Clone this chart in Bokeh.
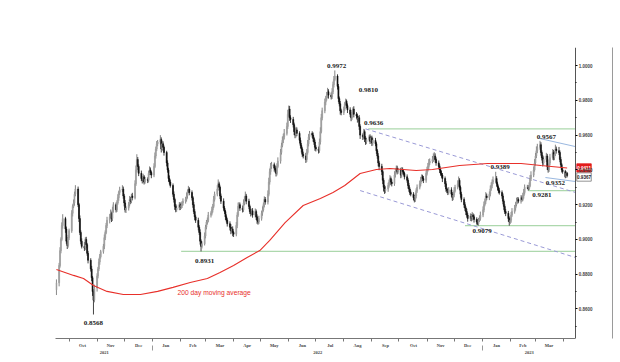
import pandas as pd
from bokeh.plotting import figure
from bokeh.models import (Range1d, LinearAxis, FixedTicker, NumeralTickFormatter, Label,
                          ColumnDataSource)
from bokeh.core.properties import value
from bokeh.embed import file_html
from bokeh.resources import INLINE

# ---------------- data ----------------
start_date = "2021-09-17"
first_open = 0.8710
closes = [
    0.8750,
    0.8850, 0.8935, 0.9000, 0.9080, 0.9120,
    0.9060, 0.8990, 0.8965, 0.9010, 0.9050,
    0.9150, 0.9190, 0.9210, 0.9260, 0.9290,
    0.9200, 0.9120, 0.9040, 0.8990, 0.8960,
    0.8950, 0.9000, 0.8970, 0.8920, 0.8880,
    0.8830, 0.8780, 0.8700, 0.8650, 0.8720,
    0.8790, 0.8830, 0.8870, 0.8900, 0.8930,
    0.8960, 0.9010, 0.9040, 0.9080, 0.9110,
    0.9130, 0.9150, 0.9120, 0.9170, 0.9200,
    0.9170, 0.9210, 0.9240, 0.9270, 0.9285,
    0.9290, 0.9250, 0.9210, 0.9170, 0.9180,
    0.9200, 0.9230, 0.9220, 0.9250, 0.9240,
    0.9320, 0.9400, 0.9460, 0.9420, 0.9380,
    0.9350, 0.9340, 0.9360, 0.9330, 0.9345,
    0.9340, 0.9380, 0.9400, 0.9385, 0.9370,
    0.9420, 0.9480, 0.9520, 0.9550, 0.9560,
    0.9575, 0.9520, 0.9550, 0.9530, 0.9500,
    0.9440, 0.9400, 0.9350, 0.9330, 0.9310,
    0.9260, 0.9230, 0.9190, 0.9170, 0.9180,
    0.9200, 0.9185, 0.9195, 0.9210, 0.9220,
    0.9230, 0.9250, 0.9275, 0.9290, 0.9270,
    0.9240, 0.9200, 0.9160, 0.9130, 0.9110,
    0.9070, 0.9040, 0.8990, 0.8960, 0.8975,
    0.9020, 0.9070, 0.9100, 0.9110, 0.9140,
    0.9150, 0.9170, 0.9190, 0.9230, 0.9260,
    0.9290, 0.9320, 0.9300, 0.9250, 0.9220,
    0.9180, 0.9160, 0.9130, 0.9110, 0.9090,
    0.9070, 0.9050, 0.9060, 0.9040, 0.9030,
    0.9080, 0.9140, 0.9190, 0.9200, 0.9180,
    0.9170, 0.9210, 0.9230, 0.9250, 0.9220,
    0.9190, 0.9160, 0.9150, 0.9165, 0.9140,
    0.9160, 0.9130, 0.9110, 0.9100, 0.9120,
    0.9150, 0.9170, 0.9200, 0.9230, 0.9215,
    0.9260, 0.9330, 0.9390, 0.9420, 0.9430,
    0.9410, 0.9400, 0.9380, 0.9420, 0.9450,
    0.9500, 0.9540, 0.9570, 0.9590, 0.9610,
    0.9650, 0.9720, 0.9750, 0.9700, 0.9690,
    0.9660, 0.9620, 0.9600, 0.9630, 0.9610,
    0.9570, 0.9540, 0.9520, 0.9490, 0.9480,
    0.9460, 0.9500, 0.9550, 0.9590, 0.9610,
    0.9600, 0.9580, 0.9560, 0.9530, 0.9520,
    0.9510, 0.9560, 0.9620, 0.9700, 0.9740,
    0.9790, 0.9810, 0.9830, 0.9850, 0.9830,
    0.9820, 0.9850, 0.9890, 0.9920, 0.9940,
    0.9880, 0.9810, 0.9780, 0.9740, 0.9730,
    0.9750, 0.9780, 0.9795, 0.9770, 0.9745,
    0.9720, 0.9700, 0.9730, 0.9750, 0.9720,
    0.9710, 0.9690, 0.9700, 0.9650, 0.9600,
    0.9590, 0.9620, 0.9580, 0.9560, 0.9575,
    0.9590, 0.9565, 0.9585, 0.9555, 0.9570,
    0.9550, 0.9510, 0.9480, 0.9440, 0.9420,
    0.9390, 0.9340, 0.9300, 0.9280, 0.9290,
    0.9310, 0.9330, 0.9350, 0.9330, 0.9320,
    0.9370, 0.9390, 0.9410, 0.9390, 0.9400,
    0.9370, 0.9400, 0.9390, 0.9380, 0.9360,
    0.9340, 0.9310, 0.9290, 0.9270, 0.9260,
    0.9240, 0.9225, 0.9250, 0.9280, 0.9300,
    0.9320, 0.9340, 0.9360, 0.9350, 0.9340,
    0.9380, 0.9400, 0.9420, 0.9440, 0.9450,
    0.9460, 0.9470, 0.9480, 0.9460, 0.9440,
    0.9420, 0.9400, 0.9380, 0.9370, 0.9350,
    0.9320, 0.9290, 0.9280, 0.9270, 0.9285,
    0.9260, 0.9240, 0.9255, 0.9280, 0.9300,
    0.9320, 0.9340, 0.9300, 0.9260, 0.9230,
    0.9200, 0.9180, 0.9160, 0.9140, 0.9120,
    0.9135, 0.9120, 0.9140, 0.9130, 0.9115,
    0.9100, 0.9090, 0.9110, 0.9120, 0.9140,
    0.9170, 0.9200, 0.9220, 0.9250, 0.9240,
    0.9260, 0.9290, 0.9310, 0.9330, 0.9340,
    0.9350, 0.9320, 0.9300, 0.9280, 0.9270,
    0.9250, 0.9220, 0.9190, 0.9160, 0.9150,
    0.9120, 0.9100, 0.9110, 0.9140, 0.9160,
    0.9180, 0.9200, 0.9220, 0.9230, 0.9220,
    0.9240, 0.9230, 0.9250, 0.9270, 0.9300,
    0.9300, 0.9290, 0.9310, 0.9350, 0.9370,
    0.9400, 0.9440, 0.9480, 0.9510, 0.9530,
    0.9545, 0.9500, 0.9470, 0.9440, 0.9460,
    0.9480, 0.9420, 0.9400, 0.9440, 0.9470,
    0.9500, 0.9470, 0.9490, 0.9520, 0.9510,
    0.9500, 0.9460, 0.9430, 0.9400, 0.9390,
    0.9360, 0.9380, 0.9367,
]
# upper / lower wick length in pips
up_wick = [
    20,
    15, 20, 12, 18, 25, 10, 14, 22, 16, 12, 18, 12, 20, 15, 22, 14, 10, 18, 12, 16,
    25, 12, 15, 10, 14, 12, 18, 10, 14, 20, 15, 12, 20, 16, 10, 14, 18, 12, 15, 20,
    16, 22, 10, 18, 14, 12, 15, 20, 10, 18, 22, 14, 12, 16, 10, 15, 20, 14, 12, 18,
    20, 25, 30, 14, 12, 16, 12, 18, 10, 14, 12, 15, 20, 14, 10, 18, 20, 14, 16, 12,
    25, 12, 18, 14, 10, 10, 15, 12, 18, 14, 12, 16, 10, 14, 20, 15, 12, 18, 10, 16,
    14, 20, 12, 18, 10, 12, 10, 16, 14, 12, 15, 12, 18, 10, 14, 20, 14, 12, 16, 18,
    12, 18, 14, 20, 15, 22, 25, 12, 10, 14, 16, 12, 10, 14, 12, 14, 18, 12, 15, 10,
    20, 16, 22, 14, 12, 15, 20, 18, 25, 12, 14, 10, 16, 12, 15, 18, 12, 14, 10, 16,
    15, 20, 12, 18, 14, 22, 25, 18, 20, 16, 12, 15, 20, 18, 22, 20, 16, 22, 18, 25,
    22, 25, 20, 18, 14, 15, 12, 20, 18, 14, 12, 16, 14, 10, 15, 18, 20, 22, 16, 14,
    12, 15, 10, 14, 12, 14, 20, 25, 22, 18, 20, 15, 18, 22, 14, 15, 20, 18, 20, 32,
    10, 14, 12, 16, 12, 14, 10, 15, 10, 12, 15, 12, 14, 10, 16, 12, 14, 10, 15, 12,
    10, 16, 12, 14, 10, 12, 14, 10, 12, 15, 14, 12, 10, 16, 12, 15, 10, 12, 14, 18,
    16, 14, 20, 12, 15, 22, 18, 15, 14, 12, 12, 16, 14, 12, 10, 14, 12, 15, 10, 12,
    12, 15, 18, 14, 16, 18, 20, 14, 12, 15, 15, 18, 20, 22, 16, 20, 25, 22, 15, 12,
    14, 12, 10, 15, 12, 12, 15, 10, 14, 16, 15, 12, 18, 20, 14, 20, 22, 12, 10, 14,
    12, 14, 10, 16, 12, 15, 12, 18, 10, 14, 12, 15, 14, 18, 20, 20, 18, 15, 22, 14,
    16, 20, 18, 15, 22, 39, 14, 12, 10, 15, 12, 14, 10, 12, 15, 14, 12, 16, 18, 20,
    18, 15, 20, 14, 12, 15, 12, 18, 20, 16, 14, 12, 18, 20, 22, 20, 22, 18, 25, 20,
    22, 14, 12, 16, 20, 18, 12, 15, 20, 22, 20, 15, 18, 25, 14, 22, 12, 15, 10, 12,
    10, 12, 8,
]
down_wick = [
    30,
    20, 12, 15, 10, 18, 22, 15, 20, 12, 14, 12, 18, 10, 16, 12, 14, 20, 15, 18, 12,
    16, 12, 20, 14, 18, 15, 20, 25, 82, 12, 20, 14, 12, 16, 10, 12, 16, 14, 10, 15,
    18, 12, 20, 14, 16, 15, 12, 10, 18, 14, 12, 16, 20, 15, 18, 14, 10, 16, 12, 15,
    10, 12, 14, 20, 16, 15, 18, 12, 14, 10, 16, 12, 10, 14, 18, 12, 10, 15, 12, 14,
    14, 20, 12, 15, 18, 20, 16, 18, 14, 12, 15, 18, 20, 14, 12, 12, 16, 10, 14, 15,
    14, 12, 15, 10, 16, 16, 18, 14, 20, 15, 18, 15, 20, 29, 12, 10, 14, 12, 15, 12,
    14, 12, 15, 10, 12, 12, 10, 14, 18, 16, 15, 14, 18, 12, 16, 18, 20, 15, 22, 16,
    12, 15, 10, 14, 16, 15, 12, 14, 10, 18, 16, 14, 18, 12, 15, 14, 18, 20, 15, 12,
    12, 14, 10, 16, 15, 14, 12, 15, 18, 14, 20, 16, 18, 12, 10, 14, 12, 10, 16, 15,
    12, 15, 14, 18, 20, 16, 20, 18, 14, 16, 18, 15, 20, 16, 14, 20, 14, 12, 15, 18,
    15, 18, 16, 20, 14, 16, 12, 14, 10, 15, 14, 18, 12, 16, 20, 15, 12, 14, 16, 10,
    18, 20, 15, 22, 16, 14, 12, 10, 16, 18, 16, 20, 12, 14, 18, 14, 18, 12, 20, 22,
    18, 14, 20, 16, 12, 12, 16, 14, 18, 15, 14, 18, 16, 20, 22, 20, 22, 25, 18, 14,
    16, 12, 14, 18, 15, 12, 14, 10, 16, 12, 18, 14, 16, 12, 15, 14, 18, 16, 15, 12,
    15, 12, 10, 14, 12, 12, 14, 10, 15, 16, 14, 12, 10, 14, 12, 12, 14, 15, 18, 16,
    16, 18, 14, 15, 20, 18, 16, 14, 15, 12, 15, 18, 14, 12, 10, 12, 14, 18, 20, 16,
    18, 16, 20, 15, 18, 14, 16, 12, 15, 18, 15, 8, 12, 10, 12, 12, 14, 10, 16, 14,
    14, 12, 10, 15, 12, 14, 16, 18, 15, 12, 16, 18, 20, 14, 16, 18, 21, 12, 14, 10,
    12, 14, 10, 15, 12, 14, 12, 10, 15, 12, 10, 9, 6, 10, 14, 12, 10, 15, 12, 14,
    14, 18, 16, 20, 12, 15, 20, 16, 12, 14, 12, 15, 14, 10, 16, 14, 16, 18, 15, 12,
    8, 5, 10,
]
# 200 day moving average, read at sample dates
ma_dates = ["2021-09-17", "2021-10-06", "2021-10-17", "2021-10-28", "2021-11-12", "2021-11-30",
            "2021-12-19", "2022-01-07", "2022-01-24", "2022-02-12", "2022-03-03", "2022-03-17",
            "2022-04-01", "2022-04-16", "2022-04-30", "2022-05-11", "2022-05-28", "2022-06-17",
            "2022-07-06", "2022-07-20", "2022-08-02", "2022-08-19", "2022-09-06", "2022-09-21",
            "2022-10-20", "2022-11-07", "2022-12-07", "2023-01-07", "2023-02-13", "2023-03-07",
            "2023-04-05"]
ma_values = [0.8827, 0.8793, 0.8775, 0.8735, 0.8701, 0.8683, 0.8683, 0.8701, 0.8724, 0.8752,
             0.8775, 0.8810, 0.8850, 0.8896, 0.8936, 0.8994, 0.9097, 0.9195, 0.9235, 0.9270,
             0.9310, 0.9379, 0.9402, 0.9408, 0.9396, 0.9402, 0.9425, 0.9437, 0.9437, 0.9425,
             0.9411]
level_labels = ["0.9972", "0.9810", "0.9636", "0.9567", "0.9389", "0.9352", "0.9281",
                "0.9079", "0.8931", "0.8568"]
support_levels = [0.9636, 0.9281, 0.9079, 0.8931]
support_from = ["2022-08-28", "2023-02-21", "2022-12-13", "2022-02-02"]
ma_last = 0.9411
last_close = 0.9367
y_ticks = [0.86, 0.88, 0.90, 0.92, 0.94, 0.96, 0.98, 1.00]
month_names = ["Jan", "Feb", "Mar", "Apr", "May", "Jun", "Jul", "Aug", "Sep", "Oct", "Nov", "Dec"]
year_names = ["2021", "2022", "2023"]

# ---------------- helpers ----------------
origin = pd.Timestamp("2021-09-16")
def dnum(d):
    return (pd.Timestamp(d) - origin).days

dates = pd.bdate_range(start_date, periods=len(closes))
xs = [dnum(d) for d in dates]
opens = [first_open] + closes[:-1]
highs = [max(o, c) + u * 0.0001 for o, c, u in zip(opens, closes, up_wick)]
lows = [min(o, c) - w * 0.0001 for o, c, w in zip(opens, closes, down_wick)]
up = [c >= o for o, c in zip(opens, closes)]

X_END = 575.2      # end of the time axis (the price axis sits here)
X_FRAME = 617.3    # frame extends to the right border of the picture
X_EDGE = 616.2     # right border line
p = figure(width=613, height=362, x_range=Range1d(0, X_FRAME), y_range=Range1d(0.843, 1.0104),
           output_backend="svg", toolbar_location=None, x_axis_type=None, y_axis_type=None,
           min_border_left=55, min_border_right=0, min_border_top=47, min_border_bottom=24)
p.outline_line_color = None
p.xgrid.visible = False
p.ygrid.visible = False

# right border of the picture
p.segment(x0=X_EDGE, y0=0.80, x1=X_EDGE, y1=1.05, line_color="#9a9a9a", line_width=1)

# support lines (green)
for lvl, d0 in zip(support_levels, support_from):
    p.segment(x0=dnum(d0), y0=lvl, x1=X_END, y1=lvl, line_color="#add8ad", line_width=1.2)

# channel dashed lines
p.segment(x0=343, y0=0.9636, x1=X_END, y1=0.9270, line_color="#9a9ad6", line_width=1,
          line_dash="4 3")
p.segment(x0=337, y0=0.9281, x1=X_END, y1=0.8896, line_color="#9a9ad6", line_width=1,
          line_dash="4 3")
# short wedge lines
p.segment(x0=536, y0=0.9580, x1=X_END, y1=0.9534, line_color="#9ab8e0", line_width=1)
p.segment(x0=542, y0=0.9356, x1=X_END, y1=0.9333, line_color="#9ab8e0", line_width=1)

# candles
src = ColumnDataSource(dict(x=xs, h=highs, l=lows,
                            top=[max(a, b) for a, b in zip(opens, closes)],
                            bot=[min(a, b) for a, b in zip(opens, closes)],
                            fill=["#a0a0a0" if u else "#111111" for u in up],
                            wick=["#858585" if u else "#444444" for u in up]))
p.segment(x0="x", y0="l", x1="x", y1="h", line_color="wick", line_width=1, source=src)
p.vbar(x="x", top="top", bottom="bot", width=1.1, fill_color="fill", line_color="fill",
       line_width=0.6, source=src)

# moving average
p.line([dnum(d) for d in ma_dates], ma_values, line_color="#e8302a", line_width=1.1)

# level annotations
label_pos = [(311, 1.0000), (346, 0.9860), (352, 0.9667), (543, 0.9588), (492, 0.9414),
             (553, 0.9325), (538, 0.9256), (472, 0.9049), (165, 0.8877), (42, 0.8520)]
for txt, (lx, ly) in zip(level_labels, label_pos):
    p.add_layout(Label(x=lx, y=ly, text=txt, text_font="Liberation Serif",
                       text_font_size="7px", text_align="center", text_baseline="middle",
                       text_color="#222222", text_font_style="bold"))
p.add_layout(Label(x=135, y=0.8695, text="200 day moving average", text_font="Liberation Sans",
                   text_font_size="6.7px", text_align="left", text_baseline="middle",
                   text_color="#e8302a"))

# value boxes next to the price axis
box_x = X_END + 9.5
box_src = ColumnDataSource(dict(x=[box_x, box_x], y=[ma_last, last_close - 0.0008],
                                txt=[f"{ma_last:.4f}", f"{last_close:.4f}"],
                                fill=["#e21c1c", "#ffffff"], line=["#e21c1c", "#777777"],
                                tcol=["#ffffff", "#222222"]))
p.rect(x="x", y="y", width=16, height=0.0048, fill_color="fill", line_color="line",
       line_width=0.8, source=box_src)
p.text(x="x", y="y", text="txt", text_color="tcol", text_font=value("Liberation Sans"),
       text_font_size="4.6px", text_font_style="bold", text_align="center",
       text_baseline="middle", source=box_src)

# price axis (drawn at the end of the time axis, labels to its right)
minor_y = [round(t + 0.01, 2) for t in y_ticks[:-1]] + [0.85]
yax = LinearAxis(ticker=FixedTicker(ticks=y_ticks, minor_ticks=minor_y),
                 formatter=NumeralTickFormatter(format="0.0000"), fixed_location=X_END)
yax.axis_line_color = "#555555"
yax.major_tick_out = 0
yax.major_tick_in = 2
yax.minor_tick_out = 0
yax.minor_tick_in = 1
yax.major_label_standoff = -17
yax.major_label_text_font_size = "4.5px"
yax.major_label_text_font = "Liberation Sans"
yax.major_label_text_font_style = "bold"
p.add_layout(yax, "left")

# x axis: months
month_starts = pd.date_range("2021-10-01", "2023-04-01", freq="MS")
mids, overrides = [], {}
for a, b in zip(month_starts[:-1], month_starts[1:]):
    m = int(round((dnum(a) + dnum(b)) / 2))
    mids.append(m)
    overrides[m] = month_names[a.month - 1]
xm = LinearAxis(ticker=FixedTicker(ticks=mids, minor_ticks=[dnum(d) for d in month_starts]),
                major_label_overrides=overrides, bounds=(0, X_END))
xm.axis_line_color = "#777777"
xm.major_tick_line_color = None
xm.major_tick_out = 0
xm.major_tick_in = 0
xm.minor_tick_out = 3
xm.minor_tick_in = 0
xm.minor_tick_line_color = "#777777"
xm.major_label_standoff = 1
xm.major_label_text_font_size = "4.5px"
xm.major_label_text_font = "Liberation Serif"
xm.major_label_text_font_style = "bold"
p.add_layout(xm, "below")

# x axis: years
j22, j23 = dnum("2022-01-01"), dnum("2023-01-01")
yc = [int(round(j22 / 2)), int(round((j22 + j23) / 2)), int(round((j23 + X_END) / 2))]
xy = LinearAxis(ticker=FixedTicker(ticks=yc, minor_ticks=[j22, j23]),
                major_label_overrides=dict(zip(yc, year_names)))
xy.axis_line_color = None
xy.major_tick_line_color = None
xy.major_tick_out = 0
xy.major_tick_in = 0
xy.minor_tick_in = 5
xy.minor_tick_out = 0
xy.minor_tick_line_color = "#999999"
xy.major_label_standoff = 0
xy.major_label_text_font_size = "4.5px"
xy.major_label_text_font = "Liberation Serif"
xy.major_label_text_font_style = "bold"
p.add_layout(xy, "below")

open("out.html", "w").write(file_html(p, INLINE))
